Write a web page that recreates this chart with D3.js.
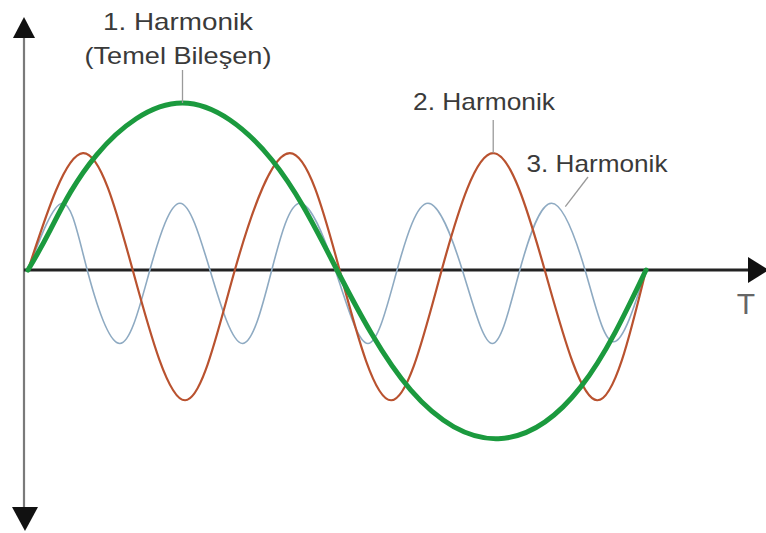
<!DOCTYPE html>
<html>
<head>
<meta charset="utf-8">
<script src="https://cdn.jsdelivr.net/npm/d3@7"></script>
<style>
  html, body { margin: 0; padding: 0; background: #fff; }
  svg { display: block; }
</style>
</head>
<body>
<svg id="chart" width="766" height="533"></svg>
<script>
// Harmonics diagram
// phase in degrees of the fundamental, value relative to the fundamental's amplitude

// 1. Harmonik (fundamental)
const h1Phase = [0, 13, 40, 90, 142, 180, 223, 274, 322, 360];
const h1Value = [0, 0.24, 0.69, 1.0, 0.66, 0, -0.72, -1.01, -0.70, 0];

// 2. Harmonik (red)
const h2Phase = [0, 32, 61, 91.5, 120.5, 152.5, 181.5, 211.5, 241, 271, 301, 331.5, 360];
const h2Value = [0, 0.70, 0, -0.78, 0, 0.70, 0, -0.78, 0, 0.70, 0, -0.78, 0];

// 3. Harmonik (blue)
const h3Phase = [0, 20, 34.5, 53.5, 71, 88.5, 106, 125, 142, 158.5, 179,
                 198, 215, 233, 253, 270.5, 286.5, 305, 324.5, 341, 360];
const h3Value = [0, 0.40, 0, -0.44, 0, 0.40, 0, -0.44, 0, 0.40, 0,
                 -0.44, 0, 0.40, 0, -0.44, 0, 0.40, 0, -0.43, 0];

// Label texts and the point on the curve each one points to
const labelLines = [["1. Harmonik", "(Temel Bileşen)"], ["2. Harmonik"], ["3. Harmonik"]];
const labelPhase = [90, 271, 313];
const labelValue = [1.0, 0.70, 0.38];
const axisLabel = "T";


// -- Drawing -- //

let svg = d3.select("#chart");
let width = 766, height = 533;

let x = d3.scaleLinear().domain([0, 360]).range([28, 646]);
let y = d3.scaleLinear().domain([-1, 1]).range([437, 103]);

let axisX = 24;
let y0 = y(0);

// Axes
let axes = svg.append("g");
axes.append("line")
    .attr("x1", axisX).attr("x2", axisX)
    .attr("y1", 36).attr("y2", 509)
    .attr("stroke", "#7a7a7a")
    .attr("stroke-width", 2.2);
axes.append("path")
    .attr("d", `M${axisX - 11},38 L${axisX + 11},38 L${axisX},17 Z`)
    .attr("fill", "#111");
axes.append("path")
    .attr("d", `M${axisX - 12},507 L${axisX + 14},507 L${axisX + 1},531 Z`)
    .attr("fill", "#111");
axes.append("line")
    .attr("x1", axisX).attr("x2", 752)
    .attr("y1", y0).attr("y2", y0)
    .attr("stroke", "#222")
    .attr("stroke-width", 3);
axes.append("path")
    .attr("d", `M748,${y0 - 13} L769,${y0} L748,${y0 + 13} Z`)
    .attr("fill", "#111");
axes.append("text")
    .attr("x", 746).attr("y", 314)
    .attr("text-anchor", "middle")
    .attr("font-family", "Liberation Sans, Arial, sans-serif")
    .attr("font-size", 30)
    .attr("fill", "#666")
    .text(axisLabel);

// Curves
let line = d3.line()
    .x(d => x(d[0]))
    .y(d => y(d[1]))
    .curve(d3.curveNatural);

let series = [
  {phase: h3Phase, value: h3Value, colour: "#8eaac2", width: 1.6},
  {phase: h2Phase, value: h2Value, colour: "#b9522f", width: 2.2},
  {phase: h1Phase, value: h1Value, colour: "#1b9a3e", width: 5},
];

svg.append("g")
    .attr("fill", "none")
    .attr("stroke-linejoin", "round")
    .attr("stroke-linecap", "round")
  .selectAll("path")
  .data(series)
  .join("path")
    .attr("stroke", d => d.colour)
    .attr("stroke-width", d => d.width)
    .attr("d", d => line(d.phase.map((p, i) => [p, d.value[i]])));

// Labels with leader lines
let labelPos = [
  {x: 178, y: [30, 64], lx: x(labelPhase[0]), ly: 70, widths: [150, 187]},
  {x: 484, y: [110], lx: x(labelPhase[1]), ly: 120, widths: [142]},
  {x: 597, y: [172], lx: 588, ly: 177, widths: [141]},
];

let labels = svg.append("g");
labelLines.forEach((lines, i) => {
  let p = labelPos[i];
  labels.append("line")
      .attr("x1", p.lx).attr("y1", p.ly)
      .attr("x2", x(labelPhase[i])).attr("y2", y(labelValue[i]))
      .attr("stroke", "#9a9a9a")
      .attr("stroke-width", 1.3);
  lines.forEach((t, j) => {
    labels.append("text")
        .attr("x", p.x).attr("y", p.y[j])
        .attr("text-anchor", "middle")
        .attr("font-family", "Liberation Sans, Arial, sans-serif")
        .attr("font-size", 24)
        .attr("fill", "#3a3a3a")
        .attr("textLength", p.widths[j])
        .attr("lengthAdjust", "spacingAndGlyphs")
        .text(t);
  });
});
</script>
</body>
</html>
